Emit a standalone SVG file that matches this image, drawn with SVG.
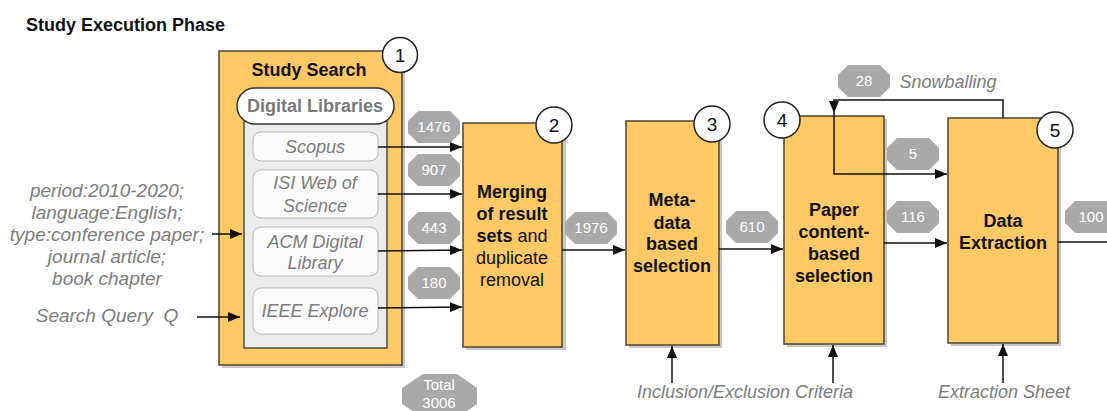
<svg xmlns="http://www.w3.org/2000/svg" width="1107" height="411" viewBox="0 0 1107 411">
<defs>
<style>
.box{fill:#ffc966;stroke:#4d4330;stroke-width:1.5}
.shadow{fill:#9a9a9a;opacity:0.55}
.inner{fill:#ececec;stroke:#4d4d4d;stroke-width:1.5}
.sub{fill:#fbfbfb;stroke:#b8b8b8;stroke-width:1}
.pill{fill:#ffffff;stroke:#333;stroke-width:1.5}
.circ{fill:#fff;stroke:#222;stroke-width:1.5}
.num{font-family:"Liberation Sans",Arial,sans-serif;font-size:19px;fill:#111;text-anchor:middle}
.bold{font-family:"Liberation Sans",Arial,sans-serif;font-size:18px;font-weight:bold;fill:#111;text-anchor:middle}
.norm{font-weight:normal}
.gi{font-family:"Liberation Sans",Arial,sans-serif;font-size:18px;font-style:italic;fill:#7c7c7c;text-anchor:middle}
.big{font-size:19px}
.badge{fill:#a9a9a9}
.bt{font-family:"Liberation Sans",Arial,sans-serif;font-size:15px;fill:#fff;text-anchor:middle}
.line{fill:none;stroke:#111;stroke-width:1.5}
</style>
<marker id="ah" viewBox="0 0 12 10" refX="12" refY="5" markerWidth="12" markerHeight="10" markerUnits="userSpaceOnUse" orient="auto">
<path d="M0,0 L12,5 L0,10 Z" fill="#111"/>
</marker>
<polygon id="oct" points="-16,-16 16,-16 26,-6 26,6 16,16 -16,16 -26,6 -26,-6"/>
</defs>
<rect width="1107" height="411" fill="#fff"/>
<text x="26" y="31" font-family="Liberation Sans,Arial,sans-serif" font-size="18" font-weight="bold" fill="#111">Study Execution Phase</text>

<g id="node1">
<rect class="shadow" x="222" y="54" width="183" height="314"/>
<rect class="box" x="219" y="51" width="183" height="314"/>
<text class="bold" x="309" y="76">Study Search</text>
<rect class="inner" x="244" y="110" width="143" height="238"/>
<rect class="pill" x="237" y="88" width="157" height="36" rx="18"/>
<text class="bold" x="315" y="112" style="fill:#7a7a7a">Digital Libraries</text>
<rect class="sub" x="253" y="132" width="125" height="29" rx="8"/>
<text class="gi" x="315" y="153">Scopus</text>
<rect class="sub" x="253" y="170" width="125" height="48" rx="8"/>
<text class="gi" x="315" y="189">ISI Web of</text>
<text class="gi" x="315" y="212">Science</text>
<rect class="sub" x="253" y="227" width="125" height="49" rx="8"/>
<text class="gi" x="315" y="248">ACM Digital</text>
<text class="gi" x="315" y="269">Library</text>
<rect class="sub" x="253" y="288" width="125" height="46" rx="8"/>
<text class="gi" x="315" y="317">IEEE Explore</text>
<circle class="circ" cx="400" cy="55" r="17.5"/>
<text class="num" x="400" y="62">1</text>
</g>

<g id="node2">
<rect class="shadow" x="466" y="126" width="100" height="224"/>
<rect class="box" x="463" y="123" width="99" height="224"/>
<text class="bold" x="512" y="198">Merging</text>
<text class="bold" x="512" y="220">of result</text>
<text class="bold" x="512" y="242">sets <tspan class="norm">and</tspan></text>
<text class="bold norm" x="512" y="264">duplicate</text>
<text class="bold norm" x="512" y="286">removal</text>
<circle class="circ" cx="554" cy="125" r="18"/>
<text class="num" x="554" y="132">2</text>
</g>

<g id="node3">
<rect class="shadow" x="629" y="124" width="93" height="224"/>
<rect class="box" x="626" y="121" width="93" height="224"/>
<text class="bold" x="672" y="206">Meta-</text>
<text class="bold" x="672" y="229">data</text>
<text class="bold" x="672" y="250">based</text>
<text class="bold" x="672" y="272">selection</text>
<circle class="circ" cx="712" cy="124" r="18"/>
<text class="num" x="712" y="131">3</text>
</g>

<g id="node4">
<rect class="shadow" x="787" y="119" width="100" height="228"/>
<rect class="box" x="784" y="116" width="100" height="228"/>
<text class="bold" x="834" y="216">Paper</text>
<text class="bold" x="834" y="238">content-</text>
<text class="bold" x="834" y="260">based</text>
<text class="bold" x="834" y="282">selection</text>
<circle class="circ" cx="782" cy="120" r="18"/>
<text class="num" x="782" y="127">4</text>
</g>

<g id="node5">
<rect class="shadow" x="951" y="121" width="110" height="225"/>
<rect class="box" x="948" y="118" width="110" height="225"/>
<text class="bold" x="1003" y="227">Data</text>
<text class="bold" x="1003" y="249">Extraction</text>
<circle class="circ" cx="1055" cy="130" r="18"/>
<text class="num" x="1055" y="137">5</text>
</g>

<g id="inputs">
<text class="gi big" x="107" y="197">period:2010-2020;</text>
<text class="gi big" x="107" y="219">language:English;</text>
<text class="gi big" x="107" y="241">type:conference paper;</text>
<text class="gi big" x="107" y="263">journal article;</text>
<text class="gi big" x="107" y="285">book chapter</text>
<text class="gi big" x="107" y="322">Search Query&#160; Q</text>
<text class="gi" x="745" y="398">Inclusion/Exclusion Criteria</text>
<text class="gi" x="1004" y="398">Extraction Sheet</text>
<text class="gi" x="948" y="88">Snowballing</text>
</g>

<g id="connectors">
<path class="line" d="M212,234 H242" marker-end="url(#ah)"/>
<path class="line" d="M197,317 H240" marker-end="url(#ah)"/>
<path class="line" d="M378,147 H462" marker-end="url(#ah)"/>
<path class="line" d="M378,194 H462" marker-end="url(#ah)"/>
<path class="line" d="M378,251 L462,250" marker-end="url(#ah)"/>
<path class="line" d="M378,308 L462,307" marker-end="url(#ah)"/>
<path class="line" d="M562,250 H625" marker-end="url(#ah)"/>
<path class="line" d="M719,249 H783" marker-end="url(#ah)"/>
<path class="line" d="M884,243 H947" marker-end="url(#ah)"/>
<path class="line" d="M1058,242 H1107"/>
<path class="line" d="M1003,118 V100 H834 V113" marker-end="url(#ah)"/>
<path class="line" d="M834,113 V174 H947" marker-end="url(#ah)"/>
<path class="line" d="M672,383 V346" marker-end="url(#ah)"/>
<path class="line" d="M833,383 V345" marker-end="url(#ah)"/>
<path class="line" d="M1003,383 V344" marker-end="url(#ah)"/>
</g>

<g id="badges">
<use href="#oct" class="badge" transform="translate(434,127)"/><text class="bt" x="434" y="132">1476</text>
<use href="#oct" class="badge" transform="translate(434,170)"/><text class="bt" x="434" y="175">907</text>
<use href="#oct" class="badge" transform="translate(434,228)"/><text class="bt" x="434" y="233">443</text>
<use href="#oct" class="badge" transform="translate(434,283)"/><text class="bt" x="434" y="288">180</text>
<use href="#oct" class="badge" transform="translate(591,228)"/><text class="bt" x="591" y="233">1976</text>
<use href="#oct" class="badge" transform="translate(752,227)"/><text class="bt" x="752" y="232">610</text>
<use href="#oct" class="badge" transform="translate(864,81)"/><text class="bt" x="864" y="86">28</text>
<use href="#oct" class="badge" transform="translate(913,154)"/><text class="bt" x="913" y="159">5</text>
<use href="#oct" class="badge" transform="translate(913,217)"/><text class="bt" x="913" y="222">116</text>
<use href="#oct" class="badge" transform="translate(1091,217)"/><text class="bt" x="1091" y="222">100</text>
<polygon class="badge" points="423,374 457,374 477,388 477,404 457,418 423,418 402,404 402,388"/>
<text class="bt" x="439" y="390">Total</text>
<text class="bt" x="439" y="408">3006</text>
</g>
</svg>
